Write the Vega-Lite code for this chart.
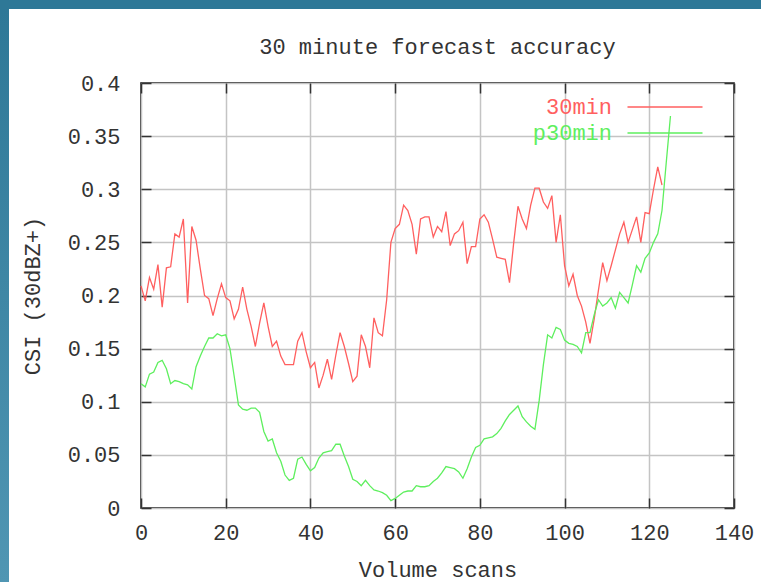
{
  "$schema": "https://vega.github.io/schema/vega-lite/v6.json",
  "background": "white",
  "padding": 0,
  "bounds": "flush",
  "spacing": 0,
  "datasets": {
    "csi": [
{"scan":0,"series":"30min","csi":0.209},{"scan":1,"series":"30min","csi":0.195},{"scan":2,"series":"30min","csi":0.217},{"scan":3,"series":"30min","csi":0.206},{"scan":4,"series":"30min","csi":0.229},{"scan":5,"series":"30min","csi":0.189},{"scan":6,"series":"30min","csi":0.226},{"scan":7,"series":"30min","csi":0.227},{"scan":8,"series":"30min","csi":0.258},{"scan":9,"series":"30min","csi":0.255},
{"scan":10,"series":"30min","csi":0.272},{"scan":11,"series":"30min","csi":0.193},{"scan":12,"series":"30min","csi":0.265},{"scan":13,"series":"30min","csi":0.252},{"scan":14,"series":"30min","csi":0.225},{"scan":15,"series":"30min","csi":0.2},{"scan":16,"series":"30min","csi":0.197},{"scan":17,"series":"30min","csi":0.181},{"scan":18,"series":"30min","csi":0.197},{"scan":19,"series":"30min","csi":0.211},
{"scan":20,"series":"30min","csi":0.198},{"scan":21,"series":"30min","csi":0.195},{"scan":22,"series":"30min","csi":0.178},{"scan":23,"series":"30min","csi":0.187},{"scan":24,"series":"30min","csi":0.208},{"scan":25,"series":"30min","csi":0.187},{"scan":26,"series":"30min","csi":0.171},{"scan":27,"series":"30min","csi":0.152},{"scan":28,"series":"30min","csi":0.174},{"scan":29,"series":"30min","csi":0.193},
{"scan":30,"series":"30min","csi":0.171},{"scan":31,"series":"30min","csi":0.152},{"scan":32,"series":"30min","csi":0.157},{"scan":33,"series":"30min","csi":0.143},{"scan":34,"series":"30min","csi":0.135},{"scan":35,"series":"30min","csi":0.135},{"scan":36,"series":"30min","csi":0.135},{"scan":37,"series":"30min","csi":0.157},{"scan":38,"series":"30min","csi":0.165},{"scan":39,"series":"30min","csi":0.147},
{"scan":40,"series":"30min","csi":0.132},{"scan":41,"series":"30min","csi":0.137},{"scan":42,"series":"30min","csi":0.113},{"scan":43,"series":"30min","csi":0.125},{"scan":44,"series":"30min","csi":0.14},{"scan":45,"series":"30min","csi":0.121},{"scan":46,"series":"30min","csi":0.144},{"scan":47,"series":"30min","csi":0.165},{"scan":48,"series":"30min","csi":0.152},{"scan":49,"series":"30min","csi":0.136},
{"scan":50,"series":"30min","csi":0.119},{"scan":51,"series":"30min","csi":0.124},{"scan":52,"series":"30min","csi":0.163},{"scan":53,"series":"30min","csi":0.152},{"scan":54,"series":"30min","csi":0.132},{"scan":55,"series":"30min","csi":0.179},{"scan":56,"series":"30min","csi":0.165},{"scan":57,"series":"30min","csi":0.162},{"scan":58,"series":"30min","csi":0.196},{"scan":59,"series":"30min","csi":0.25},
{"scan":60,"series":"30min","csi":0.263},{"scan":61,"series":"30min","csi":0.267},{"scan":62,"series":"30min","csi":0.285},{"scan":63,"series":"30min","csi":0.28},{"scan":64,"series":"30min","csi":0.267},{"scan":65,"series":"30min","csi":0.239},{"scan":66,"series":"30min","csi":0.272},{"scan":67,"series":"30min","csi":0.274},{"scan":68,"series":"30min","csi":0.274},{"scan":69,"series":"30min","csi":0.255},
{"scan":70,"series":"30min","csi":0.265},{"scan":71,"series":"30min","csi":0.26},{"scan":72,"series":"30min","csi":0.279},{"scan":73,"series":"30min","csi":0.247},{"scan":74,"series":"30min","csi":0.258},{"scan":75,"series":"30min","csi":0.261},{"scan":76,"series":"30min","csi":0.269},{"scan":77,"series":"30min","csi":0.23},{"scan":78,"series":"30min","csi":0.246},{"scan":79,"series":"30min","csi":0.246},
{"scan":80,"series":"30min","csi":0.272},{"scan":81,"series":"30min","csi":0.276},{"scan":82,"series":"30min","csi":0.269},{"scan":83,"series":"30min","csi":0.253},{"scan":84,"series":"30min","csi":0.236},{"scan":85,"series":"30min","csi":0.235},{"scan":86,"series":"30min","csi":0.234},{"scan":87,"series":"30min","csi":0.212},{"scan":88,"series":"30min","csi":0.25},{"scan":89,"series":"30min","csi":0.284},
{"scan":90,"series":"30min","csi":0.272},{"scan":91,"series":"30min","csi":0.263},{"scan":92,"series":"30min","csi":0.285},{"scan":93,"series":"30min","csi":0.301},{"scan":94,"series":"30min","csi":0.301},{"scan":95,"series":"30min","csi":0.288},{"scan":96,"series":"30min","csi":0.282},{"scan":97,"series":"30min","csi":0.294},{"scan":98,"series":"30min","csi":0.25},{"scan":99,"series":"30min","csi":0.276},
{"scan":100,"series":"30min","csi":0.228},{"scan":101,"series":"30min","csi":0.209},{"scan":102,"series":"30min","csi":0.22},{"scan":103,"series":"30min","csi":0.2},{"scan":104,"series":"30min","csi":0.19},{"scan":105,"series":"30min","csi":0.175},{"scan":106,"series":"30min","csi":0.155},{"scan":107,"series":"30min","csi":0.178},{"scan":108,"series":"30min","csi":0.205},{"scan":109,"series":"30min","csi":0.231},
{"scan":110,"series":"30min","csi":0.214},{"scan":111,"series":"30min","csi":0.228},{"scan":112,"series":"30min","csi":0.243},{"scan":113,"series":"30min","csi":0.258},{"scan":114,"series":"30min","csi":0.269},{"scan":115,"series":"30min","csi":0.25},{"scan":116,"series":"30min","csi":0.262},{"scan":117,"series":"30min","csi":0.274},{"scan":118,"series":"30min","csi":0.25},{"scan":119,"series":"30min","csi":0.278},
{"scan":120,"series":"30min","csi":0.277},{"scan":121,"series":"30min","csi":0.3},{"scan":122,"series":"30min","csi":0.321},{"scan":123,"series":"30min","csi":0.304},
{"scan":0,"series":"p30min","csi":0.117},{"scan":1,"series":"p30min","csi":0.114},{"scan":2,"series":"p30min","csi":0.126},{"scan":3,"series":"p30min","csi":0.128},{"scan":4,"series":"p30min","csi":0.137},{"scan":5,"series":"p30min","csi":0.139},{"scan":6,"series":"p30min","csi":0.131},{"scan":7,"series":"p30min","csi":0.117},{"scan":8,"series":"p30min","csi":0.12},{"scan":9,"series":"p30min","csi":0.119},
{"scan":10,"series":"p30min","csi":0.117},{"scan":11,"series":"p30min","csi":0.116},{"scan":12,"series":"p30min","csi":0.112},{"scan":13,"series":"p30min","csi":0.133},{"scan":14,"series":"p30min","csi":0.143},{"scan":15,"series":"p30min","csi":0.152},{"scan":16,"series":"p30min","csi":0.16},{"scan":17,"series":"p30min","csi":0.16},{"scan":18,"series":"p30min","csi":0.164},{"scan":19,"series":"p30min","csi":0.162},
{"scan":20,"series":"p30min","csi":0.163},{"scan":21,"series":"p30min","csi":0.15},{"scan":22,"series":"p30min","csi":0.124},{"scan":23,"series":"p30min","csi":0.097},{"scan":24,"series":"p30min","csi":0.093},{"scan":25,"series":"p30min","csi":0.092},{"scan":26,"series":"p30min","csi":0.094},{"scan":27,"series":"p30min","csi":0.094},{"scan":28,"series":"p30min","csi":0.09},{"scan":29,"series":"p30min","csi":0.072},
{"scan":30,"series":"p30min","csi":0.063},{"scan":31,"series":"p30min","csi":0.065},{"scan":32,"series":"p30min","csi":0.052},{"scan":33,"series":"p30min","csi":0.044},{"scan":34,"series":"p30min","csi":0.031},{"scan":35,"series":"p30min","csi":0.026},{"scan":36,"series":"p30min","csi":0.028},{"scan":37,"series":"p30min","csi":0.046},{"scan":38,"series":"p30min","csi":0.048},{"scan":39,"series":"p30min","csi":0.041},
{"scan":40,"series":"p30min","csi":0.035},{"scan":41,"series":"p30min","csi":0.038},{"scan":42,"series":"p30min","csi":0.047},{"scan":43,"series":"p30min","csi":0.052},{"scan":44,"series":"p30min","csi":0.053},{"scan":45,"series":"p30min","csi":0.054},{"scan":46,"series":"p30min","csi":0.06},{"scan":47,"series":"p30min","csi":0.06},{"scan":48,"series":"p30min","csi":0.049},{"scan":49,"series":"p30min","csi":0.039},
{"scan":50,"series":"p30min","csi":0.027},{"scan":51,"series":"p30min","csi":0.025},{"scan":52,"series":"p30min","csi":0.021},{"scan":53,"series":"p30min","csi":0.026},{"scan":54,"series":"p30min","csi":0.021},{"scan":55,"series":"p30min","csi":0.017},{"scan":56,"series":"p30min","csi":0.016},{"scan":57,"series":"p30min","csi":0.0145},{"scan":58,"series":"p30min","csi":0.012},{"scan":59,"series":"p30min","csi":0.007},
{"scan":60,"series":"p30min","csi":0.009},{"scan":61,"series":"p30min","csi":0.012},{"scan":62,"series":"p30min","csi":0.015},{"scan":63,"series":"p30min","csi":0.016},{"scan":64,"series":"p30min","csi":0.016},{"scan":65,"series":"p30min","csi":0.021},{"scan":66,"series":"p30min","csi":0.02},{"scan":67,"series":"p30min","csi":0.02},{"scan":68,"series":"p30min","csi":0.021},{"scan":69,"series":"p30min","csi":0.025},
{"scan":70,"series":"p30min","csi":0.028},{"scan":71,"series":"p30min","csi":0.033},{"scan":72,"series":"p30min","csi":0.039},{"scan":73,"series":"p30min","csi":0.038},{"scan":74,"series":"p30min","csi":0.037},{"scan":75,"series":"p30min","csi":0.034},{"scan":76,"series":"p30min","csi":0.028},{"scan":77,"series":"p30min","csi":0.037},{"scan":78,"series":"p30min","csi":0.048},{"scan":79,"series":"p30min","csi":0.057},
{"scan":80,"series":"p30min","csi":0.059},{"scan":81,"series":"p30min","csi":0.065},{"scan":82,"series":"p30min","csi":0.066},{"scan":83,"series":"p30min","csi":0.067},{"scan":84,"series":"p30min","csi":0.07},{"scan":85,"series":"p30min","csi":0.075},{"scan":86,"series":"p30min","csi":0.082},{"scan":87,"series":"p30min","csi":0.088},{"scan":88,"series":"p30min","csi":0.092},{"scan":89,"series":"p30min","csi":0.096},
{"scan":90,"series":"p30min","csi":0.086},{"scan":91,"series":"p30min","csi":0.081},{"scan":92,"series":"p30min","csi":0.077},{"scan":93,"series":"p30min","csi":0.074},{"scan":94,"series":"p30min","csi":0.101},{"scan":95,"series":"p30min","csi":0.135},{"scan":96,"series":"p30min","csi":0.163},{"scan":97,"series":"p30min","csi":0.16},{"scan":98,"series":"p30min","csi":0.17},{"scan":99,"series":"p30min","csi":0.168},
{"scan":100,"series":"p30min","csi":0.158},{"scan":101,"series":"p30min","csi":0.155},{"scan":102,"series":"p30min","csi":0.154},{"scan":103,"series":"p30min","csi":0.152},{"scan":104,"series":"p30min","csi":0.146},{"scan":105,"series":"p30min","csi":0.165},{"scan":106,"series":"p30min","csi":0.165},{"scan":107,"series":"p30min","csi":0.182},{"scan":108,"series":"p30min","csi":0.196},{"scan":109,"series":"p30min","csi":0.19},
{"scan":110,"series":"p30min","csi":0.193},{"scan":111,"series":"p30min","csi":0.198},{"scan":112,"series":"p30min","csi":0.188},{"scan":113,"series":"p30min","csi":0.203},{"scan":114,"series":"p30min","csi":0.198},{"scan":115,"series":"p30min","csi":0.193},{"scan":116,"series":"p30min","csi":0.21},{"scan":117,"series":"p30min","csi":0.228},{"scan":118,"series":"p30min","csi":0.222},{"scan":119,"series":"p30min","csi":0.235},
{"scan":120,"series":"p30min","csi":0.24},{"scan":121,"series":"p30min","csi":0.25},{"scan":122,"series":"p30min","csi":0.258},{"scan":123,"series":"p30min","csi":0.28},{"scan":124,"series":"p30min","csi":0.325},{"scan":125,"series":"p30min","csi":0.369}
    ]
  },
  "vconcat": [
    {
      "width": 761,
      "height": 9,
      "data": {"values": [{}]},
      "mark": {"type": "point", "opacity": 0},
      "encoding": {},
      "view": {"fill": "#2e7897", "stroke": null}
    },
    {
      "hconcat": [
        {
          "width": 9,
          "height": 573,
          "data": {"values": [{}]},
          "mark": {"type": "point", "opacity": 0},
          "encoding": {},
          "view": {
            "fill": {"gradient": "linear", "x1": 0, "y1": 0, "x2": 0, "y2": 1,
              "stops": [{"offset": 0, "color": "#2e7897"}, {"offset": 1, "color": "#5096b3"}]},
            "stroke": null
          }
        },
        {
          "width": 593,
          "height": 425,
          "title": {"text": "30 minute forecast accuracy", "font": "Liberation Mono", "fontSize": 22, "fontWeight": "normal", "color": "#333", "offset": 13, "anchor": "middle"},
          "data": {"name": "csi"},
          "view": {"fill": "white", "stroke": "#000", "strokeWidth": 1.5},
          "layer": [
            {
              "transform": [{"filter": "datum.series === '30min'"}],
              "mark": {"type": "line", "strokeWidth": 1.3},
              "encoding": {
                "x": {"field": "scan", "type": "quantitative",
                  "scale": {"domain": [0, 140], "nice": false, "zero": false},
                  "axis": {"orient": "bottom", "values": [0, 20, 40, 60, 80, 100, 120, 140], "title": "Volume scans",
                    "grid": true, "gridColor": "#c4c4c4", "gridWidth": 1.5, "domain": false,
                    "tickSize": -10, "tickColor": "#333", "tickWidth": 1.5, "labelPadding": 24, "labelFlush": false, "labelOverlap": false,
                    "labelFont": "Liberation Mono", "labelFontSize": 22, "labelColor": "#333",
                    "titleFont": "Liberation Mono", "titleFontSize": 22, "titleFontWeight": "normal", "titleColor": "#333", "titlePadding": 16}},
                "y": {"field": "csi", "type": "quantitative",
                  "scale": {"domain": [0, 0.4], "nice": false},
                  "axis": {"orient": "left", "values": [0, 0.05, 0.1, 0.15, 0.2, 0.25, 0.3, 0.35, 0.4], "format": "~g", "title": "CSI (30dBZ+)",
                    "grid": true, "gridColor": "#c4c4c4", "gridWidth": 1.5, "domain": false,
                    "tickSize": -10, "tickColor": "#333", "tickWidth": 1.5, "labelPadding": 31, "labelFlush": false, "labelOverlap": false,
                    "labelFont": "Liberation Mono", "labelFontSize": 22, "labelColor": "#333",
                    "titleFont": "Liberation Mono", "titleFontSize": 22, "titleFontWeight": "normal", "titleColor": "#333", "titlePadding": 23}},
                "color": {"field": "series", "type": "nominal",
                  "scale": {"domain": ["30min", "p30min"], "range": ["#ff5f5f", "#5eef5e"]},
                  "legend": {"orient": "none", "legendX": 654, "legendY": 96, "title": null,
                    "symbolType": "M-5,0H5", "symbolSize": 225, "symbolStrokeWidth": 1.3,
                    "labelFont": "Liberation Mono", "labelFontSize": 22, "labelAlign": "right", "labelOffset": -64,
                    "rowPadding": 4, "padding": 0,
                    "encode": {"labels": {"update": {"fill": {"scale": "color", "field": "value"}}}}}}
              }
            },
            {
              "transform": [{"filter": "datum.series === 'p30min'"}],
              "mark": {"type": "line", "strokeWidth": 1.3},
              "encoding": {
                "x": {"field": "scan", "type": "quantitative",
                  "axis": {"orient": "top", "values": [0, 20, 40, 60, 80, 100, 120, 140], "title": null, "labels": false,
                    "grid": false, "domain": false, "tickSize": -10, "tickColor": "#333", "tickWidth": 1.5}},
                "y": {"field": "csi", "type": "quantitative",
                  "axis": {"orient": "right", "values": [0, 0.05, 0.1, 0.15, 0.2, 0.25, 0.3, 0.35, 0.4], "title": null, "labels": false,
                    "grid": false, "domain": false, "tickSize": -10, "tickColor": "#333", "tickWidth": 1.5}},
                "color": {"field": "series", "type": "nominal"}
              }
            }
          ],
          "resolve": {"axis": {"x": "independent", "y": "independent"}}
        }
      ],
      "spacing": 132,
      "bounds": "flush",
      "center": true
    }
  ]
}
